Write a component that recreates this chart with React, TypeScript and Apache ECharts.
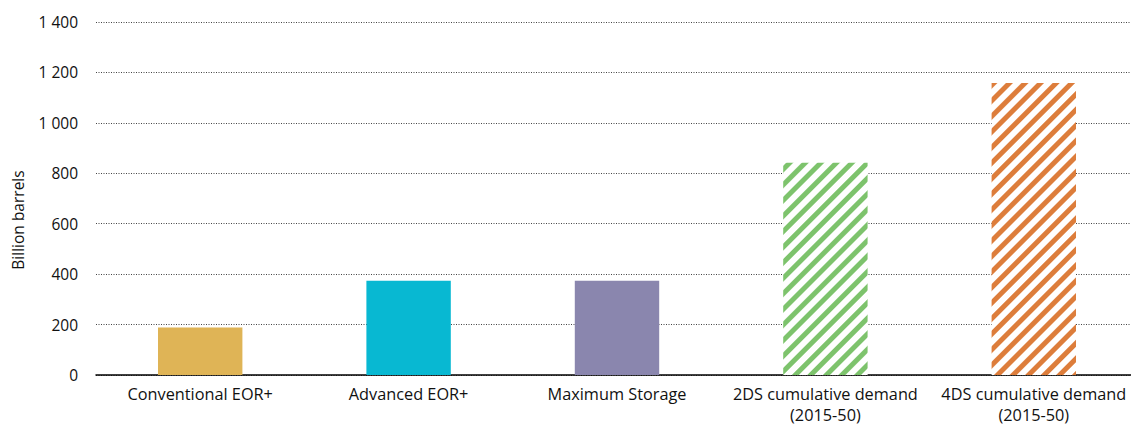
import React, { useEffect, useRef } from "react";
import * as echarts from "echarts";

const categories = [
  "Conventional EOR+",
  "Advanced EOR+",
  "Maximum Storage",
  "2DS cumulative demand\n(2015-50)",
  "4DS cumulative demand\n(2015-50)",
];
const values = [188, 374, 374, 842, 1158];
const solidColors = ["#DFB456", "#08B8D2", "#8A86AE", "#7DC36C", "#DD7D3B"];
const hatched = [false, false, false, true, true];
const yTicks = [0, 200, 400, 600, 800, 1000, 1200, 1400];

const FONT = "'Open Sans', 'Noto Sans', sans-serif";

export default function App() {
  const ref = useRef<HTMLDivElement>(null);
  useEffect(() => {
    if (!ref.current) return;
    const chart = echarts.init(ref.current, undefined, { renderer: "svg" });
    const data = values.map((v, i) =>
      hatched[i]
        ? {
            value: v,
            itemStyle: {
              color: "#ffffff",
              decal: {
                symbol: "rect",
                symbolSize: 1,
                color: solidColors[i],
                dashArrayX: [1, 0],
                dashArrayY: [5, 5.5],
                rotation: -Math.PI / 4,
              },
            },
          }
        : { value: v, itemStyle: { color: solidColors[i] } }
    );
    chart.setOption({
      animation: false,
      grid: { left: 96, top: 22, width: 1042, height: 354.5 },
      xAxis: {
        type: "category",
        data: categories,
        axisLine: { show: true, lineStyle: { color: "#000", width: 1.5 } },
        axisTick: { show: false },
        axisLabel: {
          color: "#111",
          fontFamily: FONT,
          fontSize: 16.3,
          lineHeight: 21,
          margin: 8,
          interval: 0,
        },
      },
      yAxis: {
        type: "value",
        min: yTicks[0],
        max: yTicks[yTicks.length - 1],
        interval: 200,
        name: "Billion barrels",
        nameLocation: "middle",
        nameGap: 70,
        nameTextStyle: {
          color: "#111",
          fontFamily: FONT,
          fontSize: 15.5,
          padding: [0, 43, 0, 0],
        },
        axisLine: { show: false },
        axisTick: { show: false },
        axisLabel: {
          color: "#111",
          fontFamily: FONT,
          fontSize: 15.5,
          margin: 18,
          formatter: (v: number) =>
            String(v).replace(/\B(?=(\d{3})+(?!\d))/g, " "),
        },
        splitLine: {
          show: true,
          lineStyle: { color: "#444", type: [1, 1.5], width: 1 },
        },
      },
      series: [
        {
          type: "bar",
          data,
          barWidth: "40.5%",
        },
      ],
    });
    return () => chart.dispose();
  }, []);
  return (
    <div
      style={{
        position: "absolute",
        left: 0,
        top: 0,
        width: 1131,
        height: 425,
        overflow: "hidden",
      }}
    >
      <div ref={ref} style={{ width: 1140, height: 425 }} />
    </div>
  );
}
